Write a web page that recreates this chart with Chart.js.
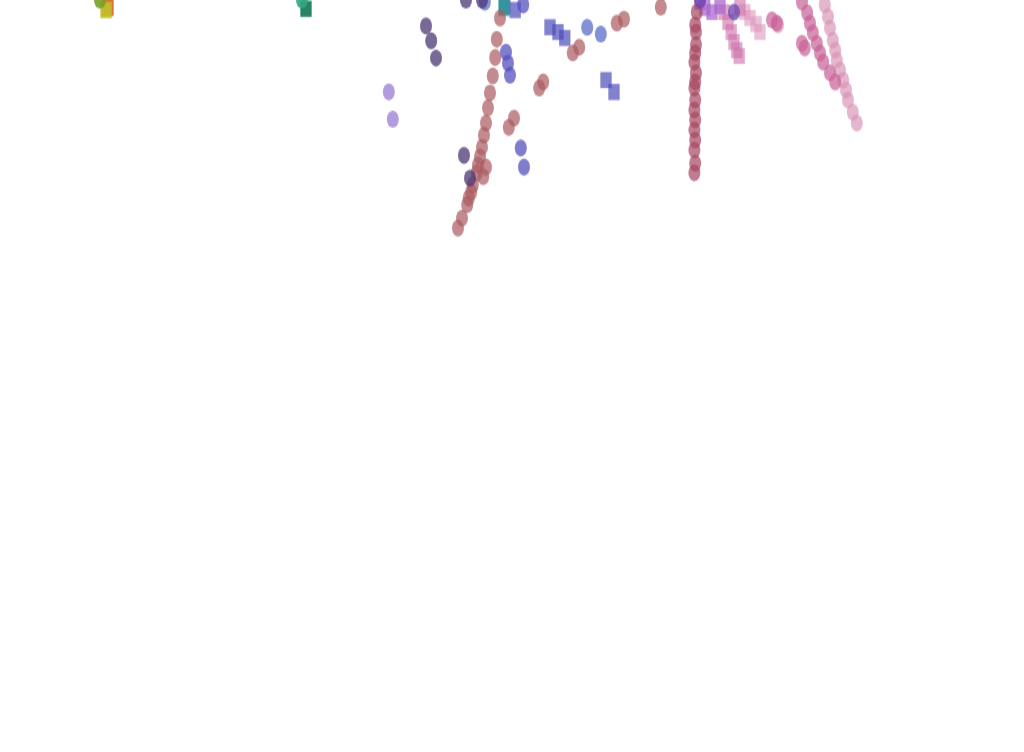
<!DOCTYPE html>
<html>
<head>
<meta charset="utf-8">
<script src="https://cdn.jsdelivr.net/npm/chart.js@4/dist/chart.umd.min.js"></script>
<style>
  html, body { margin: 0; padding: 0; background: #ffffff; overflow: hidden; }
  #wrap { width: 1024px; height: 752px; overflow: hidden; position: relative; }
  #c { display: block; transform-origin: 0 0; transform: scaleY(1.4189); }
</style>
</head>
<body>
<div id="wrap"><canvas id="c" width="1024" height="530"></canvas></div>
<script>
// ---- data (x, y) per series ----
const roseX = [62.5, 62.1, 61.9, 61.6, 61.25, 61.0, 60.75, 60.5, 60.25, 60.0, 59.75, 60.75, 60.4, 59.6, 59.1, 58.9, 58.6, 58.4, 57.75, 57.25, 67.4, 67.9, 63.6, 64.25, 71.6, 72.4, 77.1, 78.0, 82.6];
const roseY = [91.75, 89.1, 86.8, 84.5, 82.4, 80.5, 78.6, 77.1, 75.6, 74.4, 73.4, 73.1, 71.9, 72.4, 70.9, 70.0, 69.25, 68.4, 66.75, 65.5, 83.0, 83.75, 78.1, 79.25, 87.4, 88.1, 91.1, 91.6, 93.1];

const crimsonX = [87.1, 86.9, 87.0, 87.0, 86.9, 86.8, 87.0, 86.9, 86.8, 86.9, 86.8, 86.9, 86.8, 86.9, 86.8, 86.9, 86.8];
const crimsonY = [92.5, 90.9, 90.0, 88.4, 87.4, 86.25, 84.9, 83.75, 83.0, 81.5, 80.25, 79.0, 77.75, 76.5, 75.25, 73.6, 72.4];

const magentaX = [100.25, 100.9, 101.25, 101.6, 102.1, 102.5, 102.9, 103.75, 104.4, 100.25, 100.6, 96.5, 97.1];
const magentaY = [93.75, 92.4, 91.1, 89.9, 88.6, 87.4, 86.25, 84.9, 83.75, 88.6, 88.0, 91.5, 91.1];

const lightPinkX = [103.1, 103.5, 103.75, 104.1, 104.4, 104.6, 105.0, 105.4, 105.75, 106.0, 106.6, 107.1, 97.25];
const lightPinkY = [93.4, 91.9, 90.5, 89.0, 87.75, 86.5, 85.25, 84.0, 82.75, 81.5, 80.0, 78.6, 90.9];

const pinkSqX = [91.0, 91.4, 91.75, 92.1, 92.4, 90.5, 92.5];
const pinkSqY = [91.25, 90.0, 88.75, 87.75, 87.0, 92.5, 93.0];

const paleSqX = [93.1, 93.75, 94.5, 95.0];
const paleSqY = [92.5, 91.75, 91.0, 90.0];

const purpleSqX = [88.1, 89.0, 90.0, 87.5];
const purpleSqY = [93.0, 92.5, 93.25, 93.75];

const violetX = [91.75, 87.5];
const violetY = [92.5, 94.0];

const blueX = [63.25, 63.5, 63.75, 65.1, 65.5, 65.4];
const blueY = [87.5, 86.1, 84.6, 75.5, 73.1, 93.4];

const skyBlueX = [73.4, 75.1, 60.6];
const skyBlueY = [90.6, 89.75, 93.75];

const blueSqX = [68.75, 69.75, 70.6, 75.75, 76.75, 64.4, 63.1];
const blueSqY = [90.6, 90.0, 89.25, 84.0, 82.5, 92.75, 93.25];

const tealSqX = [63.0];
const tealSqY = [93.0];

const slateX = [53.25, 53.9, 54.5, 58.0, 58.75, 58.25, 60.25];
const slateY = [90.75, 88.9, 86.75, 74.6, 71.75, 94.0, 94.0];

const lavenderX = [48.6, 49.1];
const lavenderY = [82.5, 79.1];

const oliveX = [12.5];
const oliveY = [94.0];
const orangeSqX = [13.5];
const orangeSqY = [93.0];
const yellowSqX = [13.25];
const yellowSqY = [92.75];
const greenX = [37.75];
const greenY = [94.0];
const darkTealSqX = [38.25];
const darkTealSqY = [92.9];

function pts(xs, ys) { return xs.map((x, i) => ({ x: x, y: ys[i] })); }
function ds(xs, ys, color, style) {
  return {
    data: pts(xs, ys),
    backgroundColor: color,
    borderWidth: 0,
    pointStyle: style || 'circle',
    pointRadius: style === 'rect' ? 8 : 6,
    clip: false
  };
}

new Chart(document.getElementById('c'), {
  type: 'scatter',
  data: {
    datasets: [
      ds(oliveX, oliveY, 'rgba(120,160,40,0.9)'),
      ds(greenX, greenY, 'rgba(50,165,130,0.9)'),
      ds(violetX, violetY, 'rgba(105,65,170,0.75)'),
      ds(slateX, slateY, 'rgba(75,55,115,0.75)'),
      ds(blueX, blueY, 'rgba(85,80,190,0.75)'),
      ds(skyBlueX, skyBlueY, 'rgba(90,110,200,0.75)'),
      ds(lavenderX, lavenderY, 'rgba(160,130,215,0.8)'),
      ds(roseX, roseY, 'rgba(170,90,95,0.7)'),
      ds(crimsonX, crimsonY, 'rgba(165,70,95,0.7)'),
      ds(magentaX, magentaY, 'rgba(200,95,150,0.7)'),
      ds(lightPinkX, lightPinkY, 'rgba(215,145,180,0.65)'),
      ds(yellowSqX, yellowSqY, 'rgba(195,190,45,0.95)', 'rect'),
      ds(orangeSqX, orangeSqY, 'rgba(215,110,40,0.95)', 'rect'),
      ds(darkTealSqX, darkTealSqY, 'rgba(40,130,100,1)', 'rect'),
      ds(tealSqX, tealSqY, 'rgba(40,150,150,0.85)', 'rect'),
      ds(blueSqX, blueSqY, 'rgba(75,75,185,0.7)', 'rect'),
      ds(purpleSqX, purpleSqY, 'rgba(165,95,205,0.7)', 'rect'),
      ds(pinkSqX, pinkSqY, 'rgba(205,110,170,0.6)', 'rect'),
      ds(paleSqX, paleSqY, 'rgba(220,150,190,0.6)', 'rect')
    ]
  },
  options: {
    responsive: false,
    animation: false,
    events: [],
    layout: { padding: 0, autoPadding: false },
    plugins: { legend: { display: false }, tooltip: { enabled: false }, title: { display: false } },
    scales: {
      x: { type: 'linear', display: false, min: 0, max: 128 },
      y: { type: 'linear', display: false, min: 0, max: 94 }
    }
  }
});
</script>
</body>
</html>
